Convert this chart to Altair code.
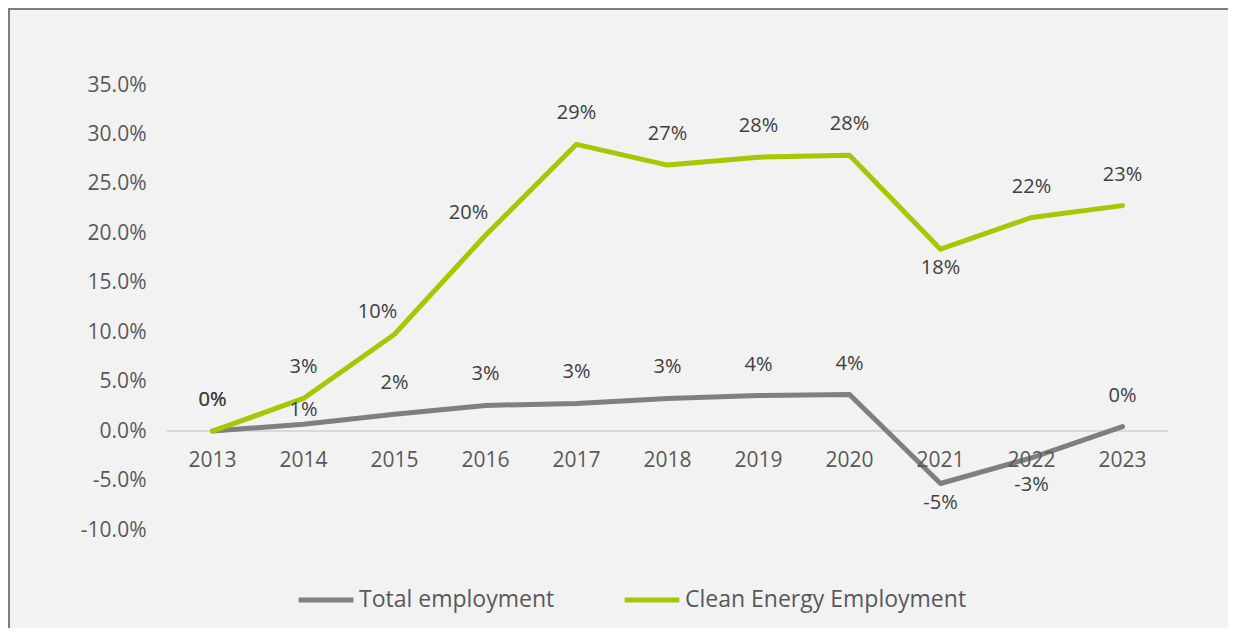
import altair as alt
import pandas as pd

years = ["2013", "2014", "2015", "2016", "2017", "2018", "2019", "2020", "2021", "2022", "2023"]
total = [0.0, 0.007, 0.017, 0.026, 0.028, 0.033, 0.036, 0.037, -0.053, -0.027, 0.0045]
clean = [0.0, 0.033, 0.098, 0.198, 0.290, 0.269, 0.277, 0.279, 0.184, 0.216, 0.228]
total_pos = ["above", "close", "above", "above", "above", "above", "above", "above", "below", "belowfar", "above"]
clean_pos = ["above", "above", "aboveleft", "aboveleft", "above", "above", "above", "above", "below", "above", "above"]
series = ["Total employment", "Clean Energy Employment"]
colors = ["#7F7F7F", "#A5C900"]
y_ticks = [-0.10, -0.05, 0.0, 0.05, 0.10, 0.15, 0.20, 0.25, 0.30, 0.35]

rows = []
for i, yr in enumerate(years):
    rows.append({"year": yr, "series": series[0], "value": total[i], "pos": total_pos[i]})
for i, yr in enumerate(years):
    rows.append({"year": yr, "series": series[1], "value": clean[i], "pos": clean_pos[i]})
df = pd.DataFrame(rows)
yr_df = pd.DataFrame({"year": years})

FONT = "Open Sans"
W, H = 1001, 445
PAD = {"left": 159, "top": 77, "right": 60, "bottom": 98}
ZERO_Y = H * 0.35 / 0.45

x_enc = alt.X("year:O", sort=years, axis=None, scale=alt.Scale(type="point", padding=0.5))
y_scale = alt.Scale(domain=[-0.10, 0.35], nice=False)
y_enc = alt.Y("value:Q", scale=y_scale,
              axis=alt.Axis(format=".1%", values=y_ticks, title=None, domain=False, ticks=False,
                            grid=False, labelFontSize=21, labelColor="#595959", labelFont=FONT,
                            labelPadding=21, labelExpr="replace(datum.label, '\u2212', '-')"))

color_enc = alt.Color("series:N", scale=alt.Scale(domain=series, range=colors),
                      legend=alt.Legend(title=None, orient="none", legendX=129, legendY=485,
                                        direction="horizontal", symbolType="stroke",
                                        symbolStrokeWidth=5, symbolSize=3000,
                                        labelFontSize=23, labelColor="#595959", labelFont=FONT,
                                        labelOffset=3, columnPadding=59, labelLimit=0))

base = alt.Chart(df).transform_calculate(
    label="replace(format(datum.value, '.0%'), '\u2212', '-')"
)

zero = alt.Chart(yr_df).mark_rule(color="#D9D9D9", strokeWidth=1.5).encode(
    x=alt.value(0), x2=alt.value(W), y=alt.value(ZERO_Y)
)

line_total = base.transform_filter(alt.datum.series == series[0]).mark_line(
    strokeWidth=5, strokeCap="round", strokeJoin="round").encode(x=x_enc, y=y_enc, color=color_enc)
line_clean = base.transform_filter(alt.datum.series == series[1]).mark_line(
    strokeWidth=5, strokeCap="round", strokeJoin="round").encode(x=x_enc, y=y_enc, color=color_enc)

def labels(pos, dy, dx=0):
    return base.transform_filter(alt.datum.pos == pos).mark_text(
        fontSize=20, font=FONT, color="#404040", baseline="middle", dy=dy, dx=dx).encode(
        x=x_enc, y=alt.Y("value:Q", scale=y_scale), text="label:N")

lab_above = labels("above", -31)
lab_close = labels("close", -14)
lab_below = labels("below", 19)
lab_belowfar = labels("belowfar", 27)
lab_al = labels("aboveleft", -22, -17)

xlabels = alt.Chart(yr_df).mark_text(fontSize=21, font=FONT, color="#595959", baseline="middle", dy=30).encode(
    x=x_enc, y=alt.value(ZERO_Y), text="year:N")

border_top = alt.Chart(yr_df).mark_rule(color="#7F7F7F", strokeWidth=1.5).encode(
    x=alt.value(-PAD["left"]), x2=alt.value(W + PAD["right"]), y=alt.value(-PAD["top"] + 0.75))
border_left = alt.Chart(yr_df).mark_rule(color="#7F7F7F", strokeWidth=1.5).encode(
    x=alt.value(-PAD["left"] + 0.75), y=alt.value(-PAD["top"]), y2=alt.value(H + PAD["bottom"]))

chart = alt.layer(
    zero, line_total, line_clean, lab_above, lab_close, lab_below, lab_belowfar, lab_al, xlabels,
    border_top, border_left
).properties(
    width=W, height=H, padding=PAD, autosize=alt.AutoSizeParams(type="none"), background="#F2F2F2"
).configure_view(stroke=None)

chart.save("out.html", embed_options={"renderer": "svg", "actions": False})
